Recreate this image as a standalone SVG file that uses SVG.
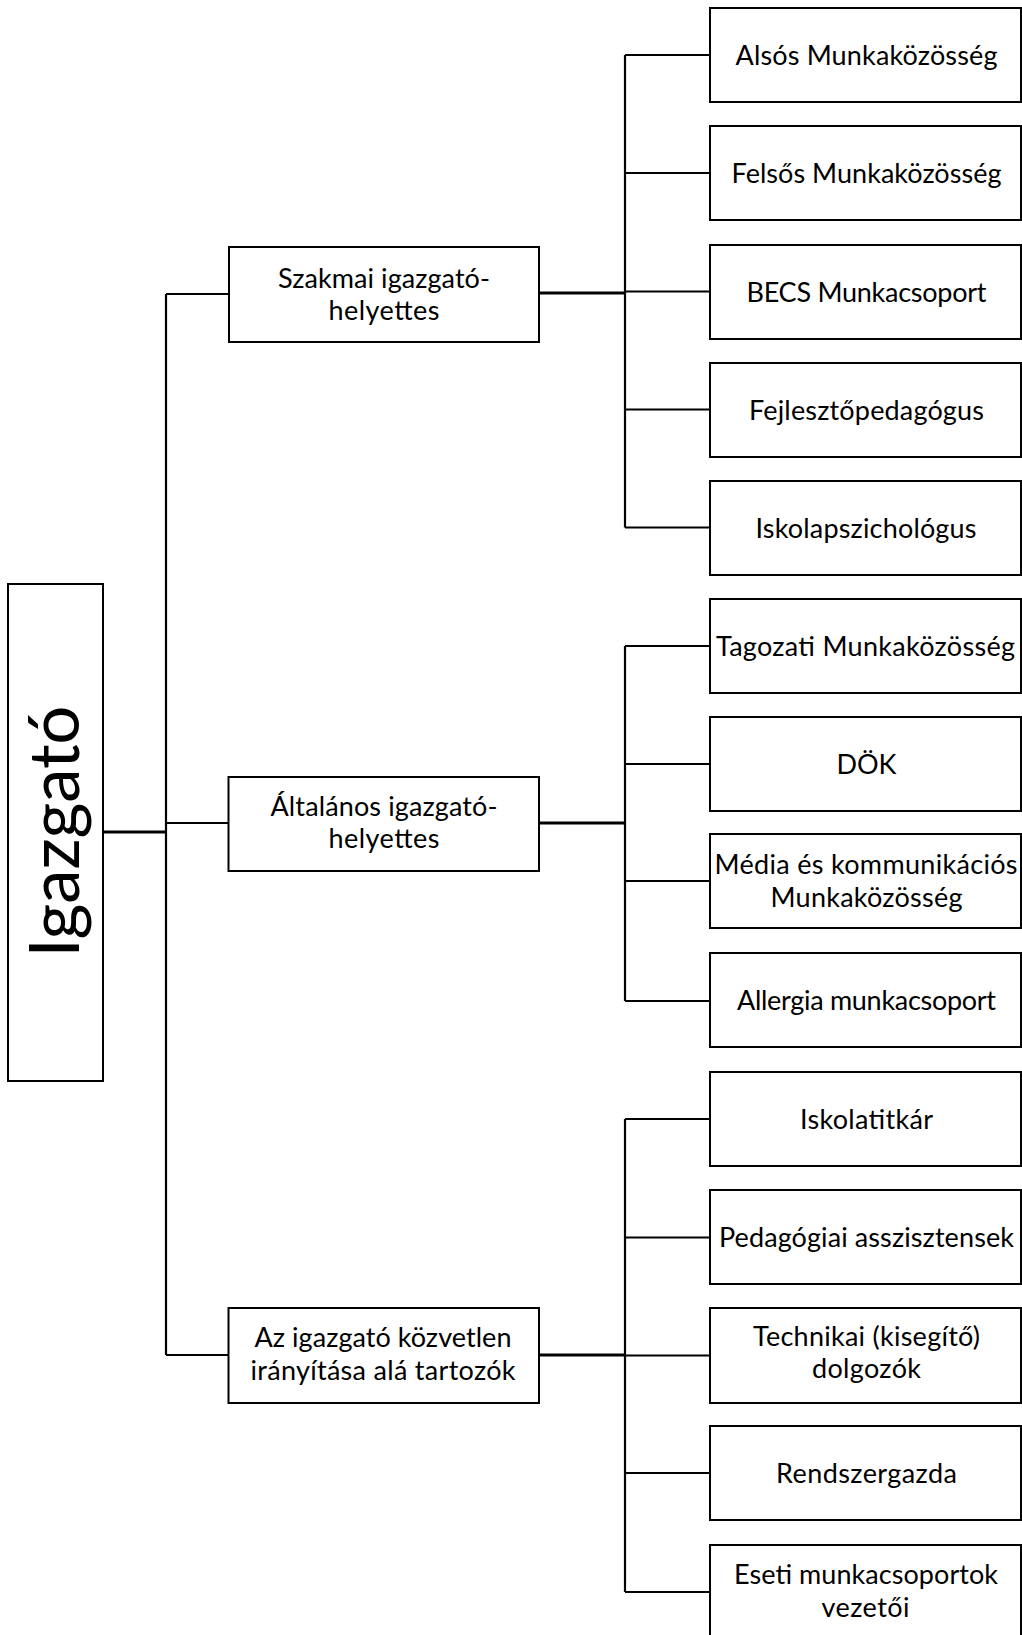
<svg xmlns="http://www.w3.org/2000/svg" width="1022" height="1635" viewBox="0 0 1022 1635">
<style>
.box{fill:#fff;stroke:#000;stroke-width:2}
.t{font-family:Lato,"Open Sans","Liberation Sans",sans-serif;font-size:27px;fill:#000;text-anchor:middle}
.big{font-family:Lato,"Open Sans","Liberation Sans",sans-serif;font-size:69px;fill:#000;text-anchor:middle}
.c{fill:none;stroke:#000;stroke-width:2.2}
.ct{fill:none;stroke:#000;stroke-width:3}
</style>
<rect width="1022" height="1635" fill="#fff"/>
<g id="connectors">
<path class="ct" d="M103,832 H166"/>
<path class="c" d="M166,294 V1355"/>
<path class="c" d="M166,294 H229 M166,823 H229 M166,1355 H229"/>
<path class="ct" d="M539,293 H625 M539,823 H625 M539,1355 H625"/>
<path class="c" d="M625,55 V527.5 M625,55 H710 M625,173 H710 M625,291.5 H710 M625,409.5 H710 M625,527.5 H710"/>
<path class="c" d="M625,646 V1001 M625,646 H710 M625,764 H710 M625,881 H710 M625,1001 H710"/>
<path class="c" d="M625,1119 V1592 M625,1119 H710 M625,1237.5 H710 M625,1355.5 H710 M625,1473 H710 M625,1592 H710"/>
</g>
<g id="igazgato">
<rect class="box" x="8" y="584" width="95" height="497"/>
<text class="big" transform="translate(79,831.5) rotate(-90)" textLength="252">Igazgató</text>
</g>
<g id="szakmai">
<rect class="box" x="229" y="247" width="310" height="95"/>
<text class="t" x="384" y="287.5" textLength="212">Szakmai igazgató-</text>
<text class="t" x="384" y="319.5" textLength="111">helyettes</text>
</g>
<g id="altalanos">
<rect class="box" x="228.5" y="777" width="310.5" height="94"/>
<text class="t" x="384" y="816" textLength="227">Általános igazgató-</text>
<text class="t" x="384" y="848" textLength="111">helyettes</text>
</g>
<g id="kozvetlen">
<rect class="box" x="228.5" y="1308" width="310.5" height="95"/>
<text class="t" x="383" y="1347" textLength="257">Az igazgató közvetlen</text>
<text class="t" x="383" y="1379.5" textLength="265">irányítása alá tartozók</text>
</g>
<g id="also">
<rect class="box" x="710" y="8" width="311" height="94"/>
<text class="t" x="866.5" y="65" textLength="262">Alsós Munkaközösség</text>
</g>
<g id="felso">
<rect class="box" x="710" y="126" width="311" height="94"/>
<text class="t" x="866.5" y="183" textLength="270">Felsős Munkaközösség</text>
</g>
<g id="becs">
<rect class="box" x="710" y="245" width="311" height="94"/>
<text class="t" x="866.5" y="302" textLength="240">BECS Munkacsoport</text>
</g>
<g id="fejleszto">
<rect class="box" x="710" y="363" width="311" height="94"/>
<text class="t" x="866.5" y="420" textLength="235">Fejlesztőpedagógus</text>
</g>
<g id="iskolapszichologus">
<rect class="box" x="710" y="481" width="311" height="94"/>
<text class="t" x="866" y="538" textLength="221">Iskolapszichológus</text>
</g>
<g id="tagozati">
<rect class="box" x="710" y="599" width="311" height="94"/>
<text class="t" x="865.5" y="656" textLength="299">Tagozati Munkaközösség</text>
</g>
<g id="dok">
<rect class="box" x="710" y="717" width="311" height="94"/>
<text class="t" x="866.5" y="774">DÖK</text>
</g>
<g id="media">
<rect class="box" x="710" y="834" width="311" height="94"/>
<text class="t" x="866" y="874" textLength="303">Média és kommunikációs</text>
<text class="t" x="866.5" y="907" textLength="192">Munkaközösség</text>
</g>
<g id="allergia">
<rect class="box" x="710" y="953" width="311" height="94"/>
<text class="t" x="866.5" y="1010" textLength="259">Allergia munkacsoport</text>
</g>
<g id="iskolatitkar">
<rect class="box" x="710" y="1072" width="311" height="94"/>
<text class="t" x="866.5" y="1128.5" textLength="133">Iskolatitkár</text>
</g>
<g id="pedagogiai">
<rect class="box" x="710" y="1190" width="311" height="94"/>
<text class="t" x="866.5" y="1247" textLength="295">Pedagógiai asszisztensek</text>
</g>
<g id="technikai">
<rect class="box" x="710" y="1308" width="311" height="95"/>
<text class="t" x="866.5" y="1345.5" textLength="227">Technikai (kisegítő)</text>
<text class="t" x="866.5" y="1378" textLength="109">dolgozók</text>
</g>
<g id="rendszergazda">
<rect class="box" x="710" y="1426" width="311" height="94"/>
<text class="t" x="866.5" y="1483" textLength="181">Rendszergazda</text>
</g>
<g id="eseti">
<rect class="box" x="710" y="1545" width="311" height="94"/>
<text class="t" x="866" y="1583.5" textLength="264">Eseti munkacsoportok</text>
<text class="t" x="865.5" y="1617" textLength="88">vezetői</text>
</g>
</svg>
